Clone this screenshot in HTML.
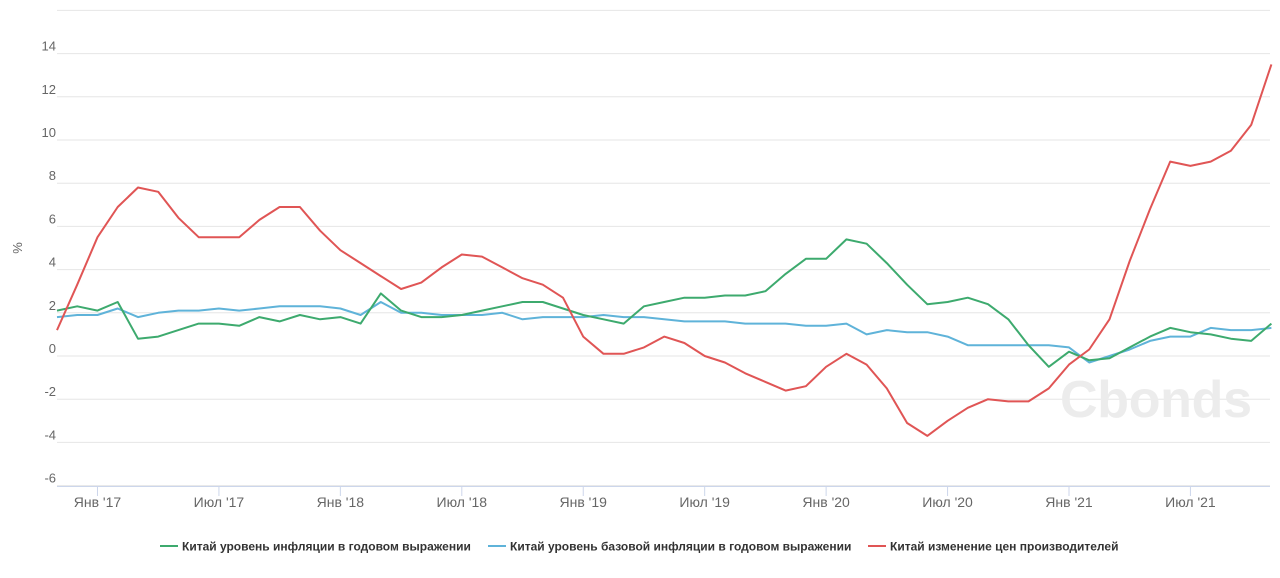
<!DOCTYPE html>
<html><head><meta charset="utf-8"><style>
body{margin:0;background:#fff;font-family:"Liberation Sans",sans-serif}
svg{display:block}
</style></head><body>
<svg id="s" width="1280" height="578" xmlns="http://www.w3.org/2000/svg"></svg>
<script>
const s=document.getElementById('s');
const y0=356,k=21.6,x0=57,dx=20.24;
const Y=v=>y0-v*k, X=i=>x0+i*dx;
let h='';
for(let v=-6;v<=16;v+=2){h+=`<line x1="57" x2="1270" y1="${Y(v)}" y2="${Y(v)}" stroke="#e6e6e6" stroke-width="1"/>`;
 if(v<=14)h+=`<text x="56" y="${Y(v)-3}" text-anchor="end" font-size="13" fill="#666">${v}</text>`;}
h+=`<line x1="57" x2="1270" y1="486.5" y2="486.5" stroke="#ccd6eb"/>`;
h+=`<text x="1060" y="417" font-size="52" font-weight="bold" fill="#ececec" textLength="192">Cbonds</text>`;
h+=`<text transform="translate(22,248) rotate(-90)" text-anchor="middle" font-size="13" fill="#666">%</text>`;
const lab=["Янв '17","Июл '17","Янв '18","Июл '18","Янв '19","Июл '19","Янв '20","Июл '20","Янв '21","Июл '21"];
lab.forEach((t,j)=>{const x=X(2+6*j);h+=`<line x1="${x}" x2="${x}" y1="486" y2="496" stroke="#ccd6eb"/><text x="${x}" y="507" text-anchor="middle" font-size="14" fill="#666">${t}</text>`;});
const red=[1.2,3.3,5.5,6.9,7.8,7.6,6.4,5.5,5.5,5.5,6.3,6.9,6.9,5.8,4.9,4.3,3.7,3.1,3.4,4.1,4.7,4.6,4.1,3.6,3.3,2.7,0.9,0.1,0.1,0.4,0.9,0.6,0.0,-0.3,-0.8,-1.2,-1.6,-1.4,-0.5,0.1,-0.4,-1.5,-3.1,-3.7,-3.0,-2.4,-2.0,-2.1,-2.1,-1.5,-0.4,0.3,1.7,4.4,6.8,9.0,8.8,9.0,9.5,10.7,13.5];
const green=[2.1,2.3,2.1,2.5,0.8,0.9,1.2,1.5,1.5,1.4,1.8,1.6,1.9,1.7,1.8,1.5,2.9,2.1,1.8,1.8,1.9,2.1,2.3,2.5,2.5,2.2,1.9,1.7,1.5,2.3,2.5,2.7,2.7,2.8,2.8,3.0,3.8,4.5,4.5,5.4,5.2,4.3,3.3,2.4,2.5,2.7,2.4,1.7,0.5,-0.5,0.2,-0.2,-0.1,0.4,0.9,1.3,1.1,1.0,0.8,0.7,1.5];
const blue=[1.8,1.9,1.9,2.2,1.8,2.0,2.1,2.1,2.2,2.1,2.2,2.3,2.3,2.3,2.2,1.9,2.5,2.0,2.0,1.9,1.9,1.9,2.0,1.7,1.8,1.8,1.8,1.9,1.8,1.8,1.7,1.6,1.6,1.6,1.5,1.5,1.5,1.4,1.4,1.5,1.0,1.2,1.1,1.1,0.9,0.5,0.5,0.5,0.5,0.5,0.4,-0.3,0.0,0.3,0.7,0.9,0.9,1.3,1.2,1.2,1.3];
const p=(d,c)=>`<polyline fill="none" stroke="${c}" stroke-width="2" stroke-linejoin="round" points="${d.map((v,i)=>X(i).toFixed(1)+','+Y(v).toFixed(1)).join(' ')}"/>`;
h+=p(blue,'#5fb3d9')+p(green,'#3daa6e')+p(red,'#e05555');
const L=[[160,'#3daa6e','Китай уровень инфляции в годовом выражении'],[488,'#5fb3d9','Китай уровень базовой инфляции в годовом выражении'],[868,'#e05555','Китай изменение цен производителей']];
L.forEach(([x,c,t])=>{h+=`<line x1="${x}" x2="${x+18}" y1="546" y2="546" stroke="${c}" stroke-width="2"/><text x="${x+22}" y="550.5" font-size="12" font-weight="bold" fill="#333">${t}</text>`;});
s.innerHTML=h;
</script>
</body></html>
